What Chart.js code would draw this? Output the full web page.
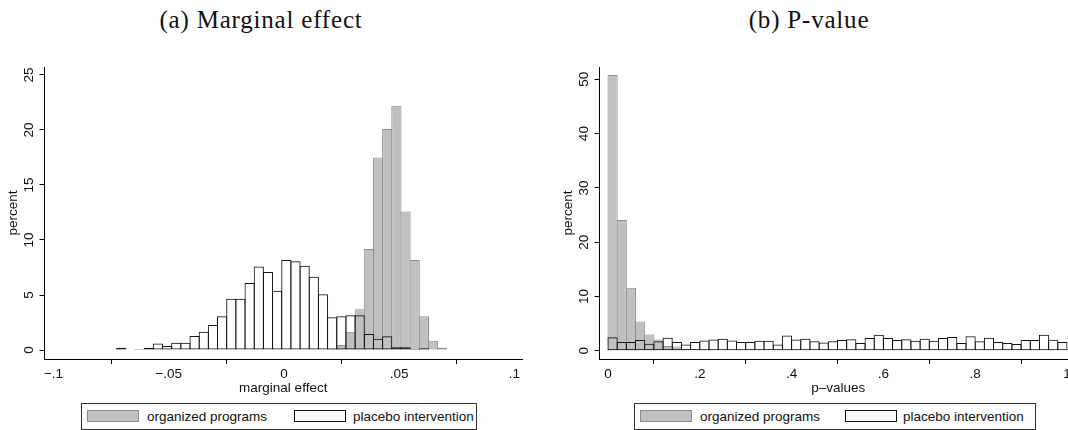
<!DOCTYPE html>
<html>
<head>
<meta charset="utf-8">
<script src="https://cdn.jsdelivr.net/npm/chart.js@4.4.1/dist/chart.umd.min.js"></script>
<style>
  html, body { margin: 0; padding: 0; background: #fff; }
  body { width: 1068px; height: 430px; position: relative; overflow: hidden; }
  .title { position: absolute; top: 7px; font-family: "Liberation Serif", serif; font-size: 25px; line-height: 25px;
           letter-spacing: 0.8px; color: #111; white-space: nowrap; transform: translateX(-50%); }
  .panel { position: absolute; top: 40px; width: 530px; height: 360px; }
  .legend { position: absolute; top: 403px; height: 27px; border: 1px solid #333; box-sizing: border-box;
            font-family: "Liberation Sans", Arial, sans-serif; font-size: 13.5px; color: #111; }
  .sw { position: absolute; top: 6px; width: 52px; height: 12px; box-sizing: border-box; }
  .sw.org { background: rgb(192,192,192); border: 1px solid rgb(140,140,140); }
  .sw.pla { background: #fff; border: 1px solid #111; }
  .lt { position: absolute; top: 0; line-height: 25px; white-space: nowrap; }
</style>
</head>
<body>
<div class="title" style="left:261px">(a) Marginal effect</div>
<div class="title" style="left:809px">(b) P-value</div>

<div class="panel" style="left:0px"><canvas id="me"></canvas></div>
<div class="panel" style="left:555px"><canvas id="pv"></canvas></div>

<div class="legend" style="left:81px; width:396px">
  <div class="sw org" style="left:5px"></div><div class="lt" style="left:65px">organized programs</div>
  <div class="sw pla" style="left:212px"></div><div class="lt" style="left:271px">placebo intervention</div>
</div>
<div class="legend" style="left:634px; width:402px">
  <div class="sw org" style="left:5px"></div><div class="lt" style="left:65px">organized programs</div>
  <div class="sw pla" style="left:210px"></div><div class="lt" style="left:268px">placebo intervention</div>
</div>

<script>
// (a) marginal effect histogram: bin edges and percent per bin
const meEdges = [-0.07260, -0.06862, -0.06464, -0.06066, -0.05668, -0.05270, -0.04872, -0.04474,
  -0.04076, -0.03678, -0.03280, -0.02882, -0.02484, -0.02086, -0.01688, -0.01290, -0.00892,
  -0.00494, -0.00096, 0.00302, 0.00700, 0.01098, 0.01496, 0.01894, 0.02292, 0.02690, 0.03088,
  0.03486, 0.03884, 0.04282, 0.04680, 0.05078, 0.05476, 0.05874, 0.06272, 0.06670, 0.07068];
const meOrganized = [null, null, null, null, null, null, null, null, null, null, null, null,
  null, null, null, null, null, null, null, null, null, null, null,
  0.1, 0.45, 1.67, 3.7, 9.18, 17.5, 20.1, 22.2, 12.6, 8.18, 3.06, 0.85, 0.2];
const mePlacebo = [0.2, null, 0.1, 0.2, 0.58, 0.36, 0.67, 0.67, 1.27, 1.67, 2.27, 3.06,
  4.67, 4.67, 6.09, 7.58, 7.09, 5.39, 8.18, 8.06, 7.67, 6.67, 5.06, 2.97,
  3.06, 3.15, 3.15, 1.45, 1.03, 1.24, 0.24, 0.24, 0.08, 0.15, null, null];
const meTicksX = [-0.1, -0.05, 0, 0.05, 0.1];
const meTickLabelsX = ['\u2212.1', '\u2212.05', '0', '.05', '.1'];
const meTicksY = [0, 5, 10, 15, 20, 25];

// (b) p-value histogram
const pvEdges = [0, 0.02, 0.04, 0.06, 0.08, 0.1, 0.12, 0.14, 0.16, 0.18, 0.2, 0.22, 0.24, 0.26,
  0.28, 0.3, 0.32, 0.34, 0.36, 0.38, 0.4, 0.42, 0.44, 0.46, 0.48, 0.5, 0.52, 0.54, 0.56, 0.58,
  0.6, 0.62, 0.64, 0.66, 0.68, 0.7, 0.72, 0.74, 0.76, 0.78, 0.8, 0.82, 0.84, 0.86, 0.88, 0.9,
  0.92, 0.94, 0.96, 0.98, 1.0];
const pvOrganized = [50.8, 24.1, 11.6, 5.4, 3.0, 2.1, 0.9, 0.8, 0.4, 0.3, 0.2, 0.2, 0.1, 0.1,
  0.1, 0.05, 0.05, null, null, null, null, null, null, null, null, null, null, null, null, null,
  null, null, null, null, null, null, null, null, null, null, null, null, null, null, null, null,
  null, null, null, null];
const pvPlacebo = [2.5, 1.6, 1.6, 2.0, 1.3, 1.75, 2.4, 1.6, 1.15, 1.6, 1.9, 2.1, 2.2, 1.9, 1.6,
  1.6, 1.85, 1.85, 1.15, 2.8, 2.1, 2.2, 1.75, 1.55, 1.75, 2.0, 2.15, 1.45, 2.35, 2.95, 2.35, 2.0,
  2.15, 1.85, 2.2, 1.85, 2.35, 2.55, 1.45, 2.7, 1.75, 2.4, 1.6, 1.45, 1.25, 2.0, 2.0, 2.95, 2.05, 1.6];
const pvTicksX = [0, 0.2, 0.4, 0.6, 0.8, 1];
const pvTickLabelsX = ['0', '.2', '.4', '.6', '.8', '1'];
const pvTicksY = [0, 10, 20, 30, 40, 50];

const FONT = '"Liberation Sans", Arial, sans-serif';
const FSIZE = 13.5;
const TEXT = '#111';

// bar points at bin centres
function binPoints(edges, values) {
  return values.map((v, i) => ({ x: (edges[i] + edges[i + 1]) / 2, y: v }));
}

function axisBase() {
  return {
    grid: { display: true, drawOnChartArea: false, drawTicks: true, tickLength: 5, tickColor: '#000', tickWidth: 1 },
    border: { display: true, color: '#000', width: 1 }
  };
}

// Stata-style y labels: rotated, reading bottom to top, centred on the tick
const rotatedYLabels = {
  id: 'rotatedYLabels',
  afterDraw(chart) {
    const s = chart.scales.y;
    const ctx = chart.ctx;
    ctx.save();
    ctx.fillStyle = TEXT;
    ctx.font = FSIZE + 'px ' + FONT;
    ctx.textAlign = 'center';
    ctx.textBaseline = 'middle';
    const x = s.right - 5 - 10.5;
    s.ticks.forEach(t => {
      ctx.save();
      ctx.translate(x, s.getPixelForValue(t.value));
      ctx.rotate(-Math.PI / 2);
      ctx.fillText(String(t.value), 0, 0);
      ctx.restore();
    });
    ctx.restore();
  }
};

function histChart(id, edges, organized, placebo, xr, yr, ticksX, labelsX, ticksY, xTitle) {
  return new Chart(document.getElementById(id), {
    type: 'bar',
    data: {
      datasets: [
        {
          label: 'organized programs',
          data: binPoints(edges, organized),
          backgroundColor: 'rgb(192,192,192)',
          borderColor: 'rgb(140,140,140)',
          borderWidth: 1,
          borderSkipped: false,
          order: 1
        },
        {
          label: 'placebo intervention',
          data: binPoints(edges, placebo),
          backgroundColor: 'rgba(0,0,0,0)',
          borderColor: '#111',
          borderWidth: 1,
          borderSkipped: false,
          order: 0
        }
      ]
    },
    options: {
      responsive: true,
      maintainAspectRatio: false,
      devicePixelRatio: 1,
      animation: false,
      events: [],
      grouped: false,
      barPercentage: 1.11,
      categoryPercentage: 1,
      layout: { padding: { left: 0, right: 8, top: 27, bottom: 0 } },
      plugins: { legend: { display: false }, tooltip: { enabled: false } },
      scales: {
        x: Object.assign(axisBase(), {
          type: 'linear', min: xr[0], max: xr[1], offset: false,
          afterBuildTicks: s => { s.ticks = ticksX.map(v => ({ value: v })); },
          ticks: { autoSkip: false, maxRotation: 0, minRotation: 0, padding: 2, color: TEXT,
                   font: { family: FONT, size: FSIZE }, callback: (v, i) => labelsX[i] },
          title: { display: true, text: xTitle, color: TEXT, font: { family: FONT, size: FSIZE },
                   padding: { top: 0, bottom: 4 } },
          afterFit: s => { s.height = 41; s.paddingLeft = 0; s.paddingRight = 0; }
        }),
        y: Object.assign(axisBase(), {
          type: 'linear', min: yr[0], max: yr[1],
          afterBuildTicks: s => { s.ticks = ticksY.map(v => ({ value: v })); },
          ticks: { autoSkip: false, color: 'rgba(0,0,0,0)', font: { family: FONT, size: FSIZE },
                   callback: v => String(v) },
          title: { display: true, text: 'percent', color: TEXT, font: { family: FONT, size: FSIZE },
                   padding: { top: 5, bottom: 0 } },
          afterFit: s => { s.width = 44.5; s.paddingTop = 0; s.paddingBottom = 0; }
        })
      }
    },
    plugins: [rotatedYLabels]
  });
}

histChart('me', meEdges, meOrganized, mePlacebo, [-0.1039, 0.1033], [-0.818, 25.727],
  meTicksX, meTickLabelsX, meTicksY, 'marginal effect');
histChart('pv', pvEdges, pvOrganized, pvPlacebo, [-0.0185, 1.0218], [-1.51, 52.27],
  pvTicksX, pvTickLabelsX, pvTicksY, 'p\u2013values');
</script>
</body>
</html>
